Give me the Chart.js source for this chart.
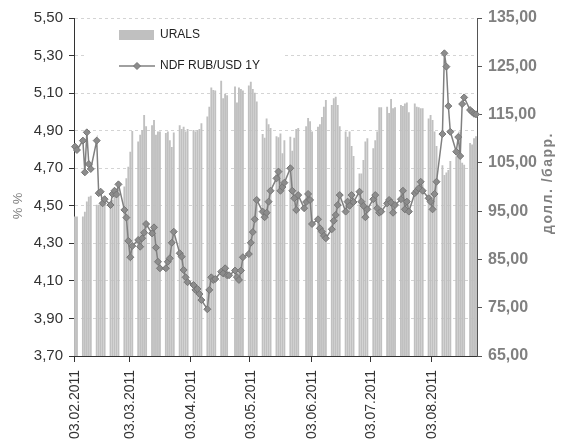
<!DOCTYPE html>
<html>
<head>
<meta charset="utf-8">
<script src="https://cdn.jsdelivr.net/npm/chart.js@4.4.1/dist/chart.umd.min.js"></script>
<style>
  html, body { margin: 0; padding: 0; background: #fff; }
</style>
</head>
<body>
<canvas id="myChart" width="561" height="448"></canvas>
<script>
// Rango de fechas del eje (días naturales); los fines de semana no tienen dato
const firstDay = new Date(2011, 1, 3);
const lastDay = new Date(2011, 7, 25);

const tickLabels = ["03.02.2011", "03.03.2011", "03.04.2011", "03.05.2011",
                    "03.06.2011", "03.07.2011", "03.08.2011"];

// URALS, долл./барр. (un valor por día hábil, semana por semana)
const uralsValues = [
    93.9, 93.9,
    93.9, 94.9, 97.0, 98.0, 98.2,
    96.3, 96.3, 96.8, 97.0, 97.0,
    97.0, 97.3, 98.7, 99.7, 100.8,
    100.1, 101.8, 104.2, 107.3, 111.6,
    109.4, 110.8, 111.8, 114.9, 112.6,
    112.8, 113.9, 110.8, 111.5, 111.5,
    111.2, 111.5, 109.7, 108.3, 111.3,
    112.8, 112.0, 112.5, 111.5, 112.0,
    111.8, 111.5, 111.8, 112.0, 113.2,
    114.6, 116.6, 120.6, 120.1, 120.0,
    122.0, 118.4, 119.3, 119.0, null,
    120.8, 117.5, 120.6, 120.3, 120.0,
    121.0, 121.8, 120.3, 119.5, 117.7,
    111.0, 110.2, 114.2, 113.0, 112.2,
    110.5, 110.3, 111.1, 107.0, 109.7,
    110.4, 107.5, 110.2, 112.0, 112.2,
    null, 112.6, 114.3, 113.6, 111.5,
    112.5, 113.0, 114.5, 116.6, 118.0,
    117.0, 118.4, 118.7, 117.0, 112.6,
    111.5, 110.4, 111.5, 108.5, 106.4,
    102.8, 102.8, 105.6, 109.4, 110.1,
    108.0, 109.7, 111.5, 116.5, 116.5,
    116.6, 115.3, 118.2, 116.3, 116.5,
    117.0, 116.8, 117.3, 117.5, 115.5,
    117.3, 116.6, 116.5, 116.3, 116.3,
    114.2, 114.9, 113.9, 111.5, 108.5,
    104.5, 102.5, 103.0, 103.5, 105.4,
    106.3, 107.7, 111.5, 105.0, 104.6,
    109.1, 108.8, 110.1, 110.5
];

// NDF RUB/USD 1Y, %
const ndfValues = [
    4.815, 4.797,
    4.847, 4.678, 4.891, 4.722, 4.696,
    4.847, 4.567, 4.575, 4.513, 4.535,
    4.504, 4.563, 4.580, 4.560, 4.614,
    4.478, 4.437, 4.313, 4.226, 4.286,
    4.318, 4.282, 4.327, 4.357, 4.403,
    4.353, 4.385, 4.277, 4.202, 4.167,
    4.167, 4.202, 4.220, 4.303, 4.362,
    4.247, 4.229, 4.158, 4.119, 4.093,
    4.078, 4.052, 4.057, 4.030, 3.998,
    3.949, 4.052, 4.119, 4.105, 4.110,
    4.149, 4.140, 4.167, 4.130, 4.130,
    4.155, 4.120, 4.105, 4.155, 4.226,
    4.243, 4.303, 4.360, 4.428, 4.531,
    4.469, 4.439, 4.463, 4.522, 4.580,
    4.646, 4.682, 4.580, 4.600, 4.623,
    4.700, 4.580, 4.540, 4.478, 4.557,
    4.487, 4.520, 4.563, 4.531, 4.403,
    4.428, 4.380, 4.362, 4.340, 4.327,
    4.375, 4.420, 4.451, 4.504, 4.557,
    4.469, 4.522, 4.500, 4.557, 4.520,
    4.575, 4.522, 4.500, 4.439, 4.481,
    4.535, 4.557, 4.487, 4.463, 4.469,
    4.513, 4.531, 4.517, 4.463, 4.504,
    4.535, 4.580, 4.481, 4.522, 4.469,
    4.567, 4.580, 4.593, 4.628, 4.580,
    4.540, 4.522, 4.481, 4.563, 4.628,
    4.882, 5.312, 5.241, 5.031, 4.894,
    4.788, 4.866, 4.765, 5.042, 5.077,
    5.010, 5.000, 4.990, 4.987
];

const family = "'Liberation Sans', Arial, sans-serif";
const grey = "#808080";

// Reparte los valores de días hábiles sobre el calendario
const labels = [];
const uralsData = [];
const ndfData = [];
let k = 0;
for (let d = new Date(firstDay); d <= lastDay; d.setDate(d.getDate() + 1)) {
    const dd = String(d.getDate()).padStart(2, "0");
    const mm = String(d.getMonth() + 1).padStart(2, "0");
    labels.push(dd + "." + mm + "." + d.getFullYear());
    const wd = d.getDay();
    if (wd === 0 || wd === 6) {
        uralsData.push(null);
        ndfData.push(null);
    } else {
        uralsData.push(uralsValues[k]);
        ndfData.push(ndfValues[k]);
        k++;
    }
}

const comma = v => v.toFixed(2).replace(".", ",");

// Leyenda dentro del área y títulos de los ejes
const extras = {
    id: "extras",
    afterDraw(chart) {
        const { ctx, chartArea } = chart;
        const L = chartArea.left;
        const T = chartArea.top;
        ctx.save();
        ctx.fillStyle = "#fff";
        ctx.fillRect(L + 10, T + 4, 198, 54);

        ctx.fillStyle = "#c0c0c0";
        ctx.fillRect(L + 45, T + 12, 35, 10);

        ctx.strokeStyle = "#808080";
        ctx.lineWidth = 1.5;
        ctx.beginPath();
        ctx.moveTo(L + 45, T + 48);
        ctx.lineTo(L + 81, T + 48);
        ctx.stroke();
        ctx.fillStyle = "#8c8c8c";
        ctx.strokeStyle = "#777";
        ctx.lineWidth = 1;
        ctx.beginPath();
        ctx.moveTo(L + 63, T + 44.5);
        ctx.lineTo(L + 66.5, T + 48);
        ctx.lineTo(L + 63, T + 51.5);
        ctx.lineTo(L + 59.5, T + 48);
        ctx.closePath();
        ctx.fill();
        ctx.stroke();

        ctx.fillStyle = "#222";
        ctx.font = "12px " + family;
        ctx.textBaseline = "middle";
        ctx.textAlign = "left";
        ctx.fillText("URALS", L + 86, T + 17);
        ctx.fillText("NDF RUB/USD 1Y", L + 86, T + 48);

        // título izquierdo
        ctx.save();
        ctx.translate(18, 206);
        ctx.rotate(-Math.PI / 2);
        ctx.font = "13px " + family;
        ctx.fillStyle = grey;
        ctx.textAlign = "center";
        ctx.fillText("% %", 0, 0);
        ctx.restore();

        // título derecho
        ctx.translate(548, 183);
        ctx.rotate(-Math.PI / 2);
        ctx.font = "bold 14px " + family;
        ctx.letterSpacing = "1.5px";
        ctx.fillStyle = grey;
        ctx.textAlign = "center";
        ctx.fillText("долл. /барр.", 0, 0);
        ctx.restore();
    }
};

const chart = new Chart(document.getElementById("myChart"), {
    type: "bar",
    data: {
        labels: labels,
        datasets: [{
            type: "line",
            label: "NDF RUB/USD 1Y",
            data: ndfData,
            yAxisID: "y",
            order: 0,
            borderColor: "#808080",
            borderWidth: 1.5,
            pointStyle: "rectRot",
            pointRadius: 3.5,
            pointBackgroundColor: "#8c8c8c",
            pointBorderColor: "#777",
            pointBorderWidth: 1,
            spanGaps: true,
            tension: 0
        }, {
            label: "URALS",
            data: uralsData,
            yAxisID: "y1",
            order: 1,
            backgroundColor: "#c0c0c0",
            barPercentage: 0.95,
            categoryPercentage: 1.0
        }]
    },
    options: {
        responsive: false,
        animation: false,
        layout: { padding: { top: 18 } },
        plugins: { legend: { display: false }, tooltip: { enabled: false } },
        scales: {
            x: {
                offset: true,
                grid: {
                    offset: true,
                    drawOnChartArea: false,
                    tickLength: 6,
                    tickColor: ctx => (ctx.tick && ctx.tick.label ? "#333" : "rgba(0,0,0,0)")
                },
                border: { color: "#333" },
                ticks: {
                    autoSkip: false,
                    minRotation: 90,
                    maxRotation: 90,
                    padding: 8,
                    color: "#333",
                    font: { size: 14, family: family },
                    callback: function (v) {
                        const l = this.getLabelForValue(v);
                        return tickLabels.includes(l) ? l : "";
                    }
                },
                afterFit: s => { s.height = 92; }
            },
            y: {
                position: "left",
                min: 3.7,
                max: 5.5,
                ticks: {
                    stepSize: 0.2,
                    color: "#333",
                    padding: 6,
                    font: { size: 15, family: family },
                    callback: v => comma(v)
                },
                grid: { color: "#d4d4d4", tickColor: "#333", tickLength: 5 },
                border: { color: "#333", dash: [3, 3] },
                afterFit: s => { s.width = 74; }
            },
            y1: {
                position: "right",
                min: 65,
                max: 135,
                ticks: {
                    stepSize: 10,
                    color: grey,
                    padding: 6,
                    font: { size: 16, weight: "bold", family: family },
                    callback: v => comma(v)
                },
                grid: { drawOnChartArea: false, tickColor: "#555", tickLength: 5 },
                border: { color: "#555" },
                afterFit: s => { s.width = 84; }
            }
        }
    },
    plugins: [extras]
});
</script>
</body>
</html>
